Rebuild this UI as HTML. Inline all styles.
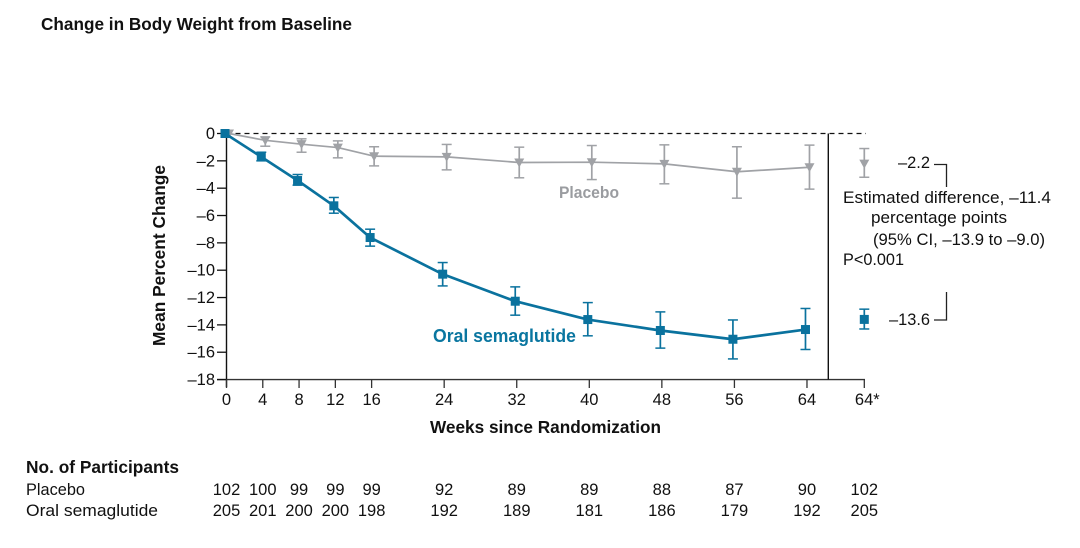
<!DOCTYPE html>
<html lang="en">
<head>
<meta charset="utf-8">
<title>Change in Body Weight from Baseline</title>
<style>
html,body{margin:0;padding:0;background:#fff;width:1080px;height:548px;overflow:hidden}
svg{display:block}
text{font-family:"Liberation Sans",sans-serif;fill:#111;font-size:16.5px}
.b{font-weight:bold}
</style>
</head>
<body>
<svg id="chart" xmlns="http://www.w3.org/2000/svg" width="1080" height="548" viewBox="0 0 1080 548">
  <text class="b" x="41" y="30" style="font-size:17.5px" textLength="311" lengthAdjust="spacingAndGlyphs">Change in Body Weight from Baseline</text>
  <text class="b" transform="translate(165,346) rotate(-90)" style="font-size:17.5px" textLength="181" lengthAdjust="spacingAndGlyphs">Mean Percent Change</text>
  <text class="b" x="430" y="433" style="font-size:17.5px" textLength="231" lengthAdjust="spacingAndGlyphs">Weeks since Randomization</text>

  <g id="axes"></g>
  <g id="marks"></g>

  <text class="b" x="559" y="198" style="font-size:16.5px;fill:#9a9ca0" textLength="60" lengthAdjust="spacingAndGlyphs">Placebo</text>
  <text class="b" x="433" y="342" style="font-size:18px;fill:#0a76a0" textLength="143" lengthAdjust="spacingAndGlyphs">Oral semaglutide</text>

  <text x="898" y="168" textLength="32" lengthAdjust="spacingAndGlyphs">–2.2</text>
  <text x="889" y="325" textLength="41" lengthAdjust="spacingAndGlyphs">–13.6</text>
  <path d="M934 164.5H946.5V187" fill="none" stroke="#222" stroke-width="1.3"/>
  <path d="M946.5 292V320H934" fill="none" stroke="#222" stroke-width="1.3"/>
  <text x="843" y="203" textLength="208" lengthAdjust="spacingAndGlyphs">Estimated difference, –11.4</text>
  <text x="871" y="223" textLength="136" lengthAdjust="spacingAndGlyphs">percentage points</text>
  <text x="873" y="245" textLength="172" lengthAdjust="spacingAndGlyphs">(95% CI, –13.9 to –9.0)</text>
  <text x="843" y="265" textLength="61" lengthAdjust="spacingAndGlyphs">P&lt;0.001</text>

  <text class="b" x="26" y="473" style="font-size:17.5px" textLength="153" lengthAdjust="spacingAndGlyphs">No. of Participants</text>
  <text x="26" y="495" textLength="59" lengthAdjust="spacingAndGlyphs">Placebo</text>
  <text x="26" y="516" textLength="132" lengthAdjust="spacingAndGlyphs">Oral semaglutide</text>
  <g id="counts"></g>
</svg>

<script>
const weeks = [0, 4, 8, 12, 16, 24, 32, 40, 48, 56, 64];
const yTicks = [0, -2, -4, -6, -8, -10, -12, -14, -16, -18];
const endLabel = "64*";

const placeboMean = [0, -0.5, -0.78, -1.03, -1.66, -1.71, -2.12, -2.1, -2.22, -2.8, -2.47];
const placeboUpper = [0, -0.25, -0.39, -0.54, -0.97, -0.8, -1.0, -0.88, -0.83, -0.97, -0.85];
const placeboLower = [0, -0.93, -1.37, -1.78, -2.37, -2.66, -3.24, -3.37, -3.68, -4.73, -4.07];
const placeboEnd = [-2.2, -1.1, -3.2];

const semaMean = [0, -1.71, -3.44, -5.29, -7.61, -10.29, -12.27, -13.61, -14.41, -15.05, -14.34];
const semaUpper = [0, -1.37, -3.0, -4.68, -7.0, -9.44, -11.22, -12.37, -13.05, -13.64, -12.8];
const semaLower = [0, -2.0, -3.78, -5.83, -8.24, -11.15, -13.29, -14.8, -15.7, -16.49, -15.8];
const semaEnd = [-13.6, -12.85, -14.3];

const placeboCounts = [102, 100, 99, 99, 99, 92, 89, 89, 88, 87, 90, 102];
const semaCounts = [205, 201, 200, 200, 198, 192, 189, 181, 186, 179, 192, 205];

const NS = "http://www.w3.org/2000/svg";
const GRAY = "#a0a2a6";
const TEAL = "#0a729e";
const endX = 864.3;
const x = w => 226.5 + w * 9.07;
const y = v => 133.5 - v * 13.67;
const axes = document.getElementById("axes");
const marks = document.getElementById("marks");
const counts = document.getElementById("counts");
const fmt = v => (v < 0 ? "–" + Math.abs(v) : String(v));

function line(parent, name, x1, y1, x2, y2, color, width, dash) {
  const el = document.createElementNS(NS, "line");
  
  
  el.setAttribute("x1", x1);
  el.setAttribute("y1", y1);
  el.setAttribute("x2", x2);
  el.setAttribute("y2", y2);
  el.setAttribute("stroke", color);
  el.setAttribute("stroke-width", width);
  if (dash) el.setAttribute("stroke-dasharray", dash);
  parent.appendChild(el);
  return el;
}

function label(parent, name, px, py, anchor, str) {
  const el = document.createElementNS(NS, "text");
  
  
  el.setAttribute("x", px);
  el.setAttribute("y", py);
  el.setAttribute("text-anchor", anchor);
  el.textContent = str;
  parent.appendChild(el);
  return el;
}

/* axes */
line(axes, "zero-reference-line", 226.5, y(0), 866, y(0), "#111", 1.3, "5 4");
line(axes, "y-axis-line", 226.5, y(0) - 1, 226.5, 387, "#111", 1.4);
line(axes, "x-axis-line", 217, y(-18), 865, y(-18), "#333", 1.4);
line(axes, "end-section-divider", 828.3, y(0), 828.3, y(-18), "#111", 1.4);
yTicks.forEach(v => {
  line(axes, "y-tick", 217, y(v), 226.5, y(v), "#111", 1.3);
  label(axes, "y-tick-label", 215, y(v) + 5.5, "end", fmt(v));
});
weeks.forEach(w => {
  line(axes, "x-tick", x(w), y(-18), x(w), 388, "#333", 1.3);
  label(axes, "x-tick-label", x(w), 405, "middle", String(w));
});
line(axes, "x-tick-end", endX, y(-18), endX, 388, "#333", 1.3);
label(axes, "x-tick-label-end", endX + 3, 405, "middle", endLabel);

/* series */
function polyline(name, vals, color, width, dodge) {
  const el = document.createElementNS(NS, "polyline");
  
  
  el.setAttribute("points", weeks.map((w, i) => (x(w) + dodge) + "," + y(vals[i])).join(" "));
  el.setAttribute("fill", "none");
  el.setAttribute("stroke", color);
  el.setAttribute("stroke-width", width);
  el.setAttribute("stroke-linejoin", "round");
  marks.appendChild(el);
}

function errorBar(prefix, px, hi, lo, color) {
  if (hi === lo) return;
  line(marks, prefix + "-error-bar", px, y(hi), px, y(lo), color, 1.7);
  line(marks, prefix + "-error-cap", px - 5, y(hi), px + 5, y(hi), color, 1.5);
  line(marks, prefix + "-error-cap", px - 5, y(lo), px + 5, y(lo), color, 1.5);
}

function triangle(px, v) {
  const el = document.createElementNS(NS, "path");
  
  
  const c = y(v);
  el.setAttribute("d", "M" + (px - 5) + " " + (c - 4) + "H" + (px + 5) + "L" + px + " " + (c + 5) + "Z");
  el.setAttribute("fill", GRAY);
  marks.appendChild(el);
}

function square(px, v) {
  const el = document.createElementNS(NS, "rect");
  
  
  el.setAttribute("x", px - 4.5);
  el.setAttribute("y", y(v) - 4.5);
  el.setAttribute("width", 9);
  el.setAttribute("height", 9);
  el.setAttribute("fill", TEAL);
  marks.appendChild(el);
}

const placeboDodge = 2.5;
const semaDodge = -1.5;
polyline("placebo-line", placeboMean, GRAY, 1.7, placeboDodge);
weeks.forEach((w, i) => {
  errorBar("placebo", x(w) + placeboDodge, placeboUpper[i], placeboLower[i], GRAY);
  triangle(x(w) + placeboDodge, placeboMean[i]);
});
errorBar("placebo-end", endX, placeboEnd[1], placeboEnd[2], GRAY);
triangle(endX, placeboEnd[0]);

polyline("semaglutide-line", semaMean, TEAL, 2.7, semaDodge);
weeks.forEach((w, i) => {
  errorBar("semaglutide", x(w) + semaDodge, semaUpper[i], semaLower[i], TEAL);
  square(x(w) + semaDodge, semaMean[i]);
});
errorBar("semaglutide-end", endX, semaEnd[1], semaEnd[2], TEAL);
square(endX, semaEnd[0]);

/* table */
const countX = weeks.map(x).concat([endX]);
placeboCounts.forEach((n, i) => {
  label(counts, "placebo-count", countX[i], 495, "middle", String(n));
});
semaCounts.forEach((n, i) => {
  label(counts, "semaglutide-count", countX[i], 516, "middle", String(n));
});
</script>
</body>
</html>
